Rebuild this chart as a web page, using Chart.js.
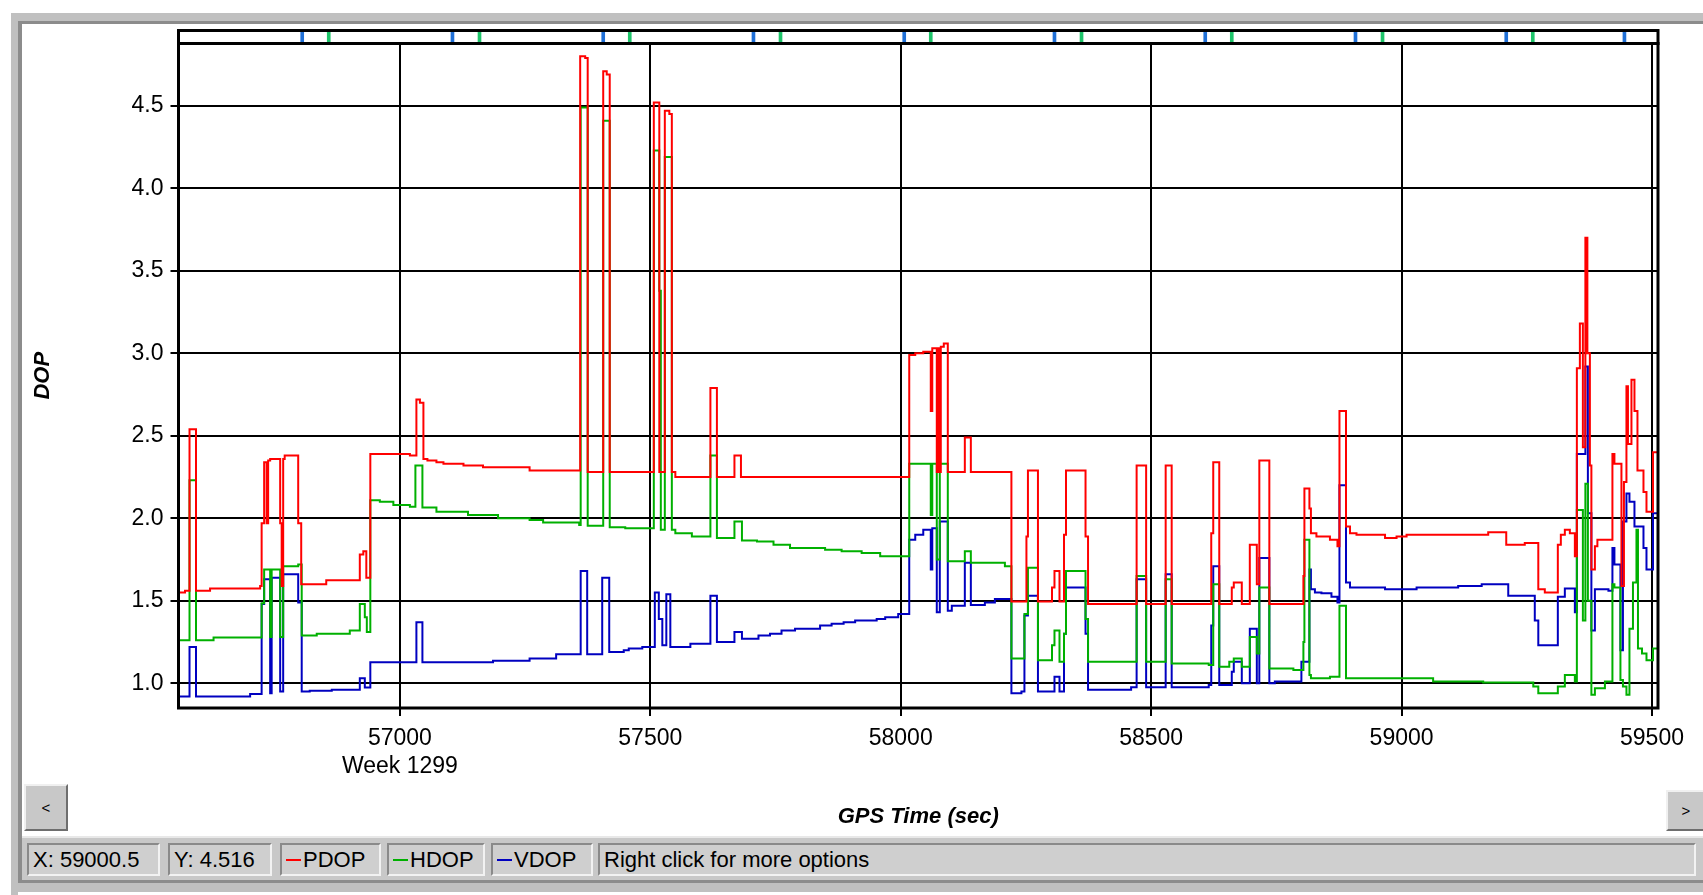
<!DOCTYPE html>
<html>
<head>
<meta charset="utf-8">
<title>DOP</title>
<script src="https://cdn.jsdelivr.net/npm/chart.js@4.4.1/dist/chart.umd.min.js"></script>
<style>
  html, body { margin: 0; padding: 0; background: #fff; }
  body { width: 1703px; height: 895px; position: relative; overflow: hidden;
         font-family: "Liberation Sans", Arial, sans-serif; }
  .abs { position: absolute; }
  #frameTop { left: 11px; top: 13px; width: 1692px; height: 8px; background: #c0c0c0; }
  #frameTopIn { left: 18px; top: 21px; width: 1685px; height: 3px; background: #8c8c8c; }
  #frameLeft { left: 11px; top: 13px; width: 7px; height: 882px; background: #c0c0c0; }
  #frameLeftIn { left: 18px; top: 21px; width: 4px; height: 862px; background: #8c8c8c; }
  #frameBot { left: 18px; top: 880px; width: 1685px; height: 3px; background: #8c8c8c; }
  #frameBot2 { left: 11px; top: 883px; width: 1692px; height: 9px; background: #c0c0c0; }
  #statusBar { left: 22px; top: 836px; width: 1681px; height: 44px; background: #c8c8c8;
               border-top: 2px solid #e8e8e8; box-sizing: border-box; }
  .box { position: absolute; top: 843px; height: 33px; box-sizing: border-box; background: #cfcfcf;
         border: 2px solid; border-color: #8a8a8a #f2f2f2 #f2f2f2 #8a8a8a;
         font-size: 22px; line-height: 29px; padding-left: 4px; color: #000; white-space: nowrap; }
  .dash { display: inline-block; width: 15px; height: 2px; vertical-align: middle; margin-right: 2px; margin-top: -2px; }
  .btn { position: absolute; background: #c8c8c8; box-sizing: border-box;
         border: 2px solid; border-color: #f0f0f0 #6e6e6e #6e6e6e #f0f0f0;
         font-size: 15px; color: #000; text-align: center; }
  canvas { position: absolute; left: 0; }
  #main { top: 0; }
  #strip { top: 28px; }
</style>
</head>
<body>
<div id="frameTop" class="abs"></div>
<div id="frameLeft" class="abs"></div>
<div id="frameTopIn" class="abs"></div>
<div id="frameLeftIn" class="abs"></div>
<div id="statusBar" class="abs"></div>
<div id="frameBot" class="abs"></div>
<div id="frameBot2" class="abs"></div>

<canvas id="main" width="1703" height="840"></canvas>
<canvas id="strip" width="1703" height="18"></canvas>

<div class="btn" style="left:24px; top:784px; width:44px; height:47px; line-height:43px;">&lt;</div>
<div class="btn" style="left:1666px; top:790px; width:40px; height:41px; line-height:37px;">&gt;</div>

<div class="box" style="left:27px; width:133px;">X: 59000.5</div>
<div class="box" style="left:168px; width:104px;">Y: 4.516</div>
<div class="box" style="left:280px; width:101px;"><span class="dash" style="background:#ff0000"></span>PDOP</div>
<div class="box" style="left:387px; width:98px;"><span class="dash" style="background:#00b000"></span>HDOP</div>
<div class="box" style="left:491px; width:102px;"><span class="dash" style="background:#0000c0"></span>VDOP</div>
<div class="box" style="left:598px; width:1098px;">Right click for more options</div>

<script>
// axis range (GPS seconds of week 1299)
const xMin = 56558, xMax = 59512;
const yMin = 0.85, yMax = 4.878;
const xTicks = [57000, 57500, 58000, 58500, 59000, 59500];
const yTicks = [1.0, 1.5, 2.0, 2.5, 3.0, 3.5, 4.0, 4.5];
const weekTick = 57000;
const weekLabel = 'Week 1299';

// satellite event marks in the top strip
const blueMarks = [56805, 57105, 57406, 57706, 58007, 58307, 58608, 58908, 59209, 59445];
const greenMarks = [56858, 57159, 57459, 57760, 58060, 58361, 58661, 58962, 59262];

// PDOP: time of change, new value
const pdopT = [56558, 56571, 56580, 56593, 56621, 56721, 56724, 56729, 56734, 56737, 56741, 56761, 56764, 56767, 56770, 56797, 56803,
  56853, 56920, 56927, 56933, 56941, 57020, 57033, 57040, 57047, 57055, 57073, 57087, 57127, 57166, 57259,
  57360, 57370, 57375, 57406, 57413, 57419, 57507, 57518, 57529, 57538, 57543, 57550, 57620, 57633, 57668, 57681,
  58017, 58029, 58045, 58060, 58063, 58072, 58075, 58078, 58080, 58086, 58094, 58128, 58140,
  58221, 58251, 58254, 58274, 58302, 58307, 58317, 58326, 58330, 58369, 58374, 58471, 58490, 58529, 58541,
  58620, 58624, 58636, 58661, 58665, 58681, 58697, 58711, 58716, 58736, 58804, 58806, 58816, 58819, 58830,
  58857, 58872, 58876, 58889, 58897, 58910, 58967, 58990, 59010, 59173, 59209, 59246, 59273, 59286, 59312,
  59318, 59326, 59336, 59346, 59350, 59356, 59362, 59367, 59371, 59376, 59379, 59386, 59391, 59421, 59425,
  59439, 59444, 59449, 59452, 59459, 59465, 59471, 59483, 59489, 59502, 59512];
const pdopV = [1.55, 1.56, 2.54, 1.56, 1.575, 1.59, 1.97, 2.34, 1.97, 2.35, 2.36, 1.97, 1.59, 2.36, 2.38, 1.97, 1.60,
  1.625, 1.78, 1.80, 1.64, 2.39, 2.38, 2.72, 2.70, 2.36, 2.35, 2.34, 2.33, 2.32, 2.31, 2.29,
  4.80, 4.79, 2.28, 4.71, 4.69, 2.28, 4.52, 2.28, 4.47, 4.45, 2.28, 2.25, 2.79, 2.25, 2.38, 2.25,
  2.99, 3.00, 3.01, 2.65, 3.03, 2.28, 3.03, 2.28, 3.04, 3.06, 2.28, 2.49, 2.28,
  1.495, 1.89, 2.29, 1.495, 1.58, 1.68, 1.495, 1.90, 2.29, 1.89, 1.48, 2.32, 1.48, 2.32, 1.48,
  1.91, 2.34, 1.48, 1.58, 1.61, 1.48, 1.84, 1.60, 2.35, 1.48, 1.65, 2.18, 2.06, 1.91, 1.89,
  1.87, 1.83, 2.65, 1.95, 1.91, 1.90, 1.88, 1.89, 1.90, 1.915, 1.84, 1.85, 1.57, 1.55, 1.84,
  1.90, 1.93, 1.91, 1.77, 2.91, 3.18, 2.43, 3.70, 3.00, 2.32, 1.69, 1.83, 1.87, 2.39, 2.33,
  1.59, 2.22, 2.80, 2.45, 2.84, 2.65, 2.29, 2.16, 2.04, 2.40, 2.40];

// HDOP
const hdopT = [56558, 56580, 56593, 56628, 56724, 56729, 56741, 56744, 56761, 56767, 56797, 56804, 56834, 56900, 56920, 56930, 56934,
  56941, 56960, 56987, 57020, 57031, 57045, 57073, 57136, 57196, 57259, 57286, 57358, 57361, 57375, 57406, 57419,
  57450, 57507, 57518, 57521, 57529, 57543, 57550, 57583, 57620, 57633, 57668, 57683, 57713, 57746, 57779, 57849,
  57882, 57922, 57959, 58017, 58060, 58063, 58072, 58078, 58094, 58128, 58140, 58208,
  58221, 58247, 58254, 58274, 58302, 58307, 58317, 58326, 58330, 58369, 58374, 58471, 58490, 58529, 58541,
  58615, 58624, 58636, 58656, 58665, 58681, 58697, 58711, 58716, 58736, 58784, 58804, 58806, 58816, 58819,
  58857, 58876, 58889, 59063, 59163, 59263, 59273, 59312, 59326, 59346, 59350, 59362, 59367, 59372, 59379,
  59386, 59406, 59421, 59425, 59437, 59442, 59449, 59455, 59462, 59469, 59472, 59480, 59489, 59502, 59512];
const hdopV = [1.26, 2.23, 1.26, 1.277, 1.485, 1.69, 1.28, 1.69, 1.28, 1.71, 1.72, 1.29, 1.30, 1.32, 1.48, 1.40, 1.31,
  2.11, 2.10, 2.08, 2.07, 2.32, 2.065, 2.04, 2.02, 2.00, 1.99, 1.975, 1.96, 4.49, 1.955, 4.41, 1.945,
  1.94, 4.23, 3.38, 1.93, 4.19, 1.93, 1.91, 1.89, 2.38, 1.88, 1.98, 1.865, 1.86, 1.84, 1.82, 1.81,
  1.80, 1.79, 1.77, 2.33, 2.02, 2.33, 1.75, 2.33, 1.74, 1.80, 1.73, 1.71,
  1.15, 1.42, 1.70, 1.14, 1.23, 1.32, 1.13, 1.30, 1.68, 1.39, 1.13, 1.65, 1.13, 1.63, 1.12,
  1.11, 1.60, 1.10, 1.13, 1.15, 1.10, 1.28, 1.18, 1.58, 1.09, 1.08, 1.25, 1.87, 1.05, 1.03,
  1.04, 1.47, 1.03, 1.01, 1.005, 0.98, 0.94, 0.98, 1.05, 1.01, 2.05, 1.38, 2.21, 1.50, 0.93,
  0.97, 1.01, 1.60, 1.58, 1.02, 0.98, 0.93, 1.33, 1.61, 1.93, 1.21, 1.18, 1.14, 1.21, 1.21];

// VDOP
const vdopT = [56558, 56580, 56593, 56701, 56724, 56729, 56741, 56744, 56761, 56767, 56797, 56804, 56820, 56864, 56920, 56930,
  56941, 57033, 57045, 57186, 57259, 57312, 57361, 57374, 57404, 57418, 57447, 57457, 57484, 57509, 57517, 57524,
  57532, 57540, 57580, 57620, 57633, 57668, 57683, 57716, 57739, 57762, 57789, 57839, 57862, 57886, 57909,
  57952, 57969, 57995, 58017, 58029, 58045, 58060, 58063, 58072, 58078, 58094, 58102, 58128, 58140, 58168, 58188,
  58221, 58241, 58247, 58254, 58274, 58307, 58317, 58326, 58330, 58369, 58374, 58460, 58471, 58490, 58529, 58541,
  58615, 58620, 58624, 58636, 58661, 58665, 58681, 58697, 58711, 58716, 58736, 58747, 58800, 58816, 58819,
  58827, 58840, 58860, 58872, 58876, 58889, 58897, 58967, 59030, 59113, 59160, 59213, 59266, 59273, 59312,
  59326, 59346, 59350, 59367, 59372, 59379, 59386, 59413, 59421, 59425, 59437, 59442, 59449, 59455, 59465,
  59483, 59489, 59502, 59512];
const vdopV = [0.92, 1.22, 0.92, 0.935, 1.48, 1.63, 0.94, 1.64, 0.95, 1.66, 1.49, 0.95, 0.955, 0.96, 1.03, 0.975,
  1.127, 1.37, 1.127, 1.137, 1.15, 1.176, 1.68, 1.176, 1.64, 1.19, 1.20, 1.21, 1.22, 1.55, 1.39, 1.23,
  1.54, 1.22, 1.24, 1.53, 1.25, 1.31, 1.27, 1.29, 1.30, 1.32, 1.33, 1.35, 1.36, 1.37, 1.38,
  1.39, 1.40, 1.42, 1.87, 1.90, 1.93, 1.69, 1.94, 1.43, 1.98, 1.44, 1.47, 1.73, 1.475, 1.49, 1.51,
  0.94, 0.95, 1.41, 1.53, 0.95, 1.04, 0.95, 1.30, 1.58, 1.30, 0.96, 0.976, 1.63, 0.976, 1.66, 0.976,
  0.99, 1.35, 1.71, 0.99, 1.07, 1.13, 1.00, 1.33, 1.00, 1.76, 1.00, 1.01, 1.13, 1.69, 1.57,
  1.55, 1.545, 1.525, 1.49, 2.20, 1.61, 1.58, 1.57, 1.58, 1.59, 1.60, 1.53, 1.38, 1.23, 1.525,
  1.575, 1.43, 2.39, 2.92, 2.03, 1.32, 1.57, 1.56, 1.82, 1.72, 1.20, 1.98, 2.15, 2.10, 1.95,
  1.82, 1.69, 2.03, 2.03];

const pts = (t, v) => t.map((x, i) => ({ x: x, y: v[i] }));

Chart.defaults.font.family = '"Liberation Sans", Arial, sans-serif';
Chart.defaults.color = '#000';

// outline around the plotting area
const areaBorder = {
  id: 'areaBorder',
  afterDraw(chart, args, opts) {
    const { ctx, chartArea: a } = chart;
    ctx.save();
    ctx.strokeStyle = opts.color;
    ctx.lineWidth = opts.width;
    ctx.strokeRect(a.left, a.top, a.right - a.left, a.bottom - a.top);
    ctx.restore();
  }
};

const lineSet = (label, t, v, color) => ({
  label: label,
  data: pts(t, v),
  borderColor: color,
  backgroundColor: color,
  borderWidth: 2,
  stepped: true,
  pointRadius: 0,
  fill: false
});

new Chart(document.getElementById('main'), {
  type: 'line',
  data: {
    datasets: [
      lineSet('PDOP', pdopT, pdopV, '#ff0000'),
      lineSet('HDOP', hdopT, hdopV, '#00b000'),
      lineSet('VDOP', vdopT, vdopV, '#0000c0')
    ]
  },
  options: {
    responsive: false,
    animation: false,
    events: [],
    layout: { padding: { left: 22, right: 45, top: 43.5, bottom: 10 } },
    scales: {
      x: {
        type: 'linear',
        min: xMin,
        max: xMax,
        afterBuildTicks: (s) => { s.ticks = xTicks.map((v) => ({ value: v })); },
        afterFit: (s) => { s.height = 122; },
        border: { display: false },
        grid: { color: '#000', lineWidth: 2, tickLength: 8, tickWidth: 2, tickColor: '#000' },
        ticks: {
          autoSkip: false,
          maxRotation: 0,
          padding: 8,
          font: { size: 23, lineHeight: 1.25 },
          callback: (v) => v === weekTick ? [String(v), weekLabel] : String(v)
        },
        title: {
          display: true,
          text: 'GPS Time (sec)',
          font: { size: 22, weight: 'bold', style: 'italic' },
          padding: { top: 0, bottom: 0 }
        }
      },
      y: {
        min: yMin,
        max: yMax,
        afterBuildTicks: (s) => { s.ticks = yTicks.map((v) => ({ value: v })); },
        afterFit: (s) => { s.width = 156.5; },
        border: { display: false },
        grid: { color: '#000', lineWidth: 2, tickLength: 8, tickWidth: 2, tickColor: '#000' },
        ticks: {
          padding: 7,
          font: { size: 23 },
          callback: (v) => v.toFixed(1)
        },
        title: {
          display: true,
          text: 'DOP',
          font: { size: 22, weight: 'bold', style: 'italic' },
          padding: { top: 8, bottom: 0 }
        }
      }
    },
    plugins: {
      legend: { display: false },
      tooltip: { enabled: false },
      areaBorder: { color: '#000', width: 3 }
    }
  },
  plugins: [areaBorder]
});

// top strip with event marks
new Chart(document.getElementById('strip'), {
  type: 'bar',
  data: {
    datasets: [
      { data: blueMarks.map((t) => ({ x: t, y: 1 })), backgroundColor: '#1f6fd6', barThickness: 3, grouped: false },
      { data: greenMarks.map((t) => ({ x: t, y: 1 })), backgroundColor: '#1ec46a', barThickness: 3, grouped: false }
    ]
  },
  options: {
    responsive: false,
    animation: false,
    events: [],
    layout: { padding: { left: 178.5, right: 45, top: 2.5, bottom: 2.5 } },
    scales: {
      x: { type: 'linear', min: xMin, max: xMax, offset: false, display: false },
      y: { min: 0, max: 1, display: false }
    },
    plugins: {
      legend: { display: false },
      tooltip: { enabled: false },
      areaBorder: { color: '#000', width: 3 }
    }
  },
  plugins: [areaBorder]
});
</script>
</body>
</html>
